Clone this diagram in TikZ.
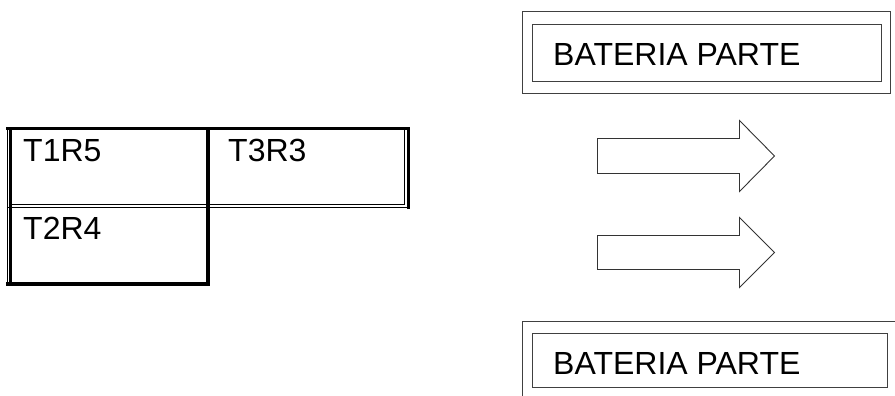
\documentclass[tikz,border=0pt]{standalone}
\usepackage{fontspec}
\setmainfont{Liberation Sans}
\begin{document}
\begin{tikzpicture}[x=1pt,y=-1pt,
  label/.style={font=\fontsize{32}{36}\selectfont,anchor=base west,inner sep=0pt},
  thinrule/.style={line width=1.1pt,draw=black},
  thickrule/.style={line width=3.4pt,draw=black},
  boxline/.style={line width=1pt,draw=black!75},
  arrowline/.style={line width=0.9pt,draw=black!80,line join=miter}]
\useasboundingbox (0,0) rectangle (895,396);

% --- table of cells ---
\draw[thickrule] (6,128.5) -- (410,128.5);
\draw[thinrule] (7.5,127) -- (7.5,285.5);
\draw[thickrule] (10.5,130) -- (10.5,285.5);
\draw[thinrule] (404.5,130) -- (404.5,205);
\draw[thickrule] (408.5,127) -- (408.5,209);
\draw[thinrule] (10,204.5) -- (405,204.5);
\draw[thinrule] (7,207.5) -- (410,207.5);
\draw[thickrule] (208,130) -- (208,285.5);
\draw[thickrule] (6,284) -- (209.7,284);

\node[label] (t1r5) at (23,161) {T1R5};
\node[label] (t3r3) at (228,161) {T3R3};
\node[label] (t2r4) at (23,239) {T2R4};

% --- upper battery box ---
\draw[boxline] (522.5,11.5) rectangle (890.5,93.5);
\draw[boxline] (532.5,24.5) rectangle (881.5,81.5);
\node[label] (bat1) at (553,66) {BATERIA PARTE};

% --- arrows ---
\draw[arrowline] (597.5,138.5) -- (739.5,138.5) -- (739.5,120.5) -- (774.5,156)
  -- (739.5,191.5) -- (739.5,173.5) -- (597.5,173.5) -- cycle;
\draw[arrowline] (597.5,235.5) -- (739.5,235.5) -- (739.5,217.5) -- (774.5,252.5)
  -- (739.5,287.5) -- (739.5,269.5) -- (597.5,269.5) -- cycle;

% --- lower battery box (runs past the page edge) ---
\draw[boxline] (900,321.5) -- (522.5,321.5) -- (522.5,400);
\draw[boxline] (532.5,333.5) rectangle (887.5,387.5);
\node[label] (bat2) at (553,374) {BATERIA PARTE};
\end{tikzpicture}
\end{document}
